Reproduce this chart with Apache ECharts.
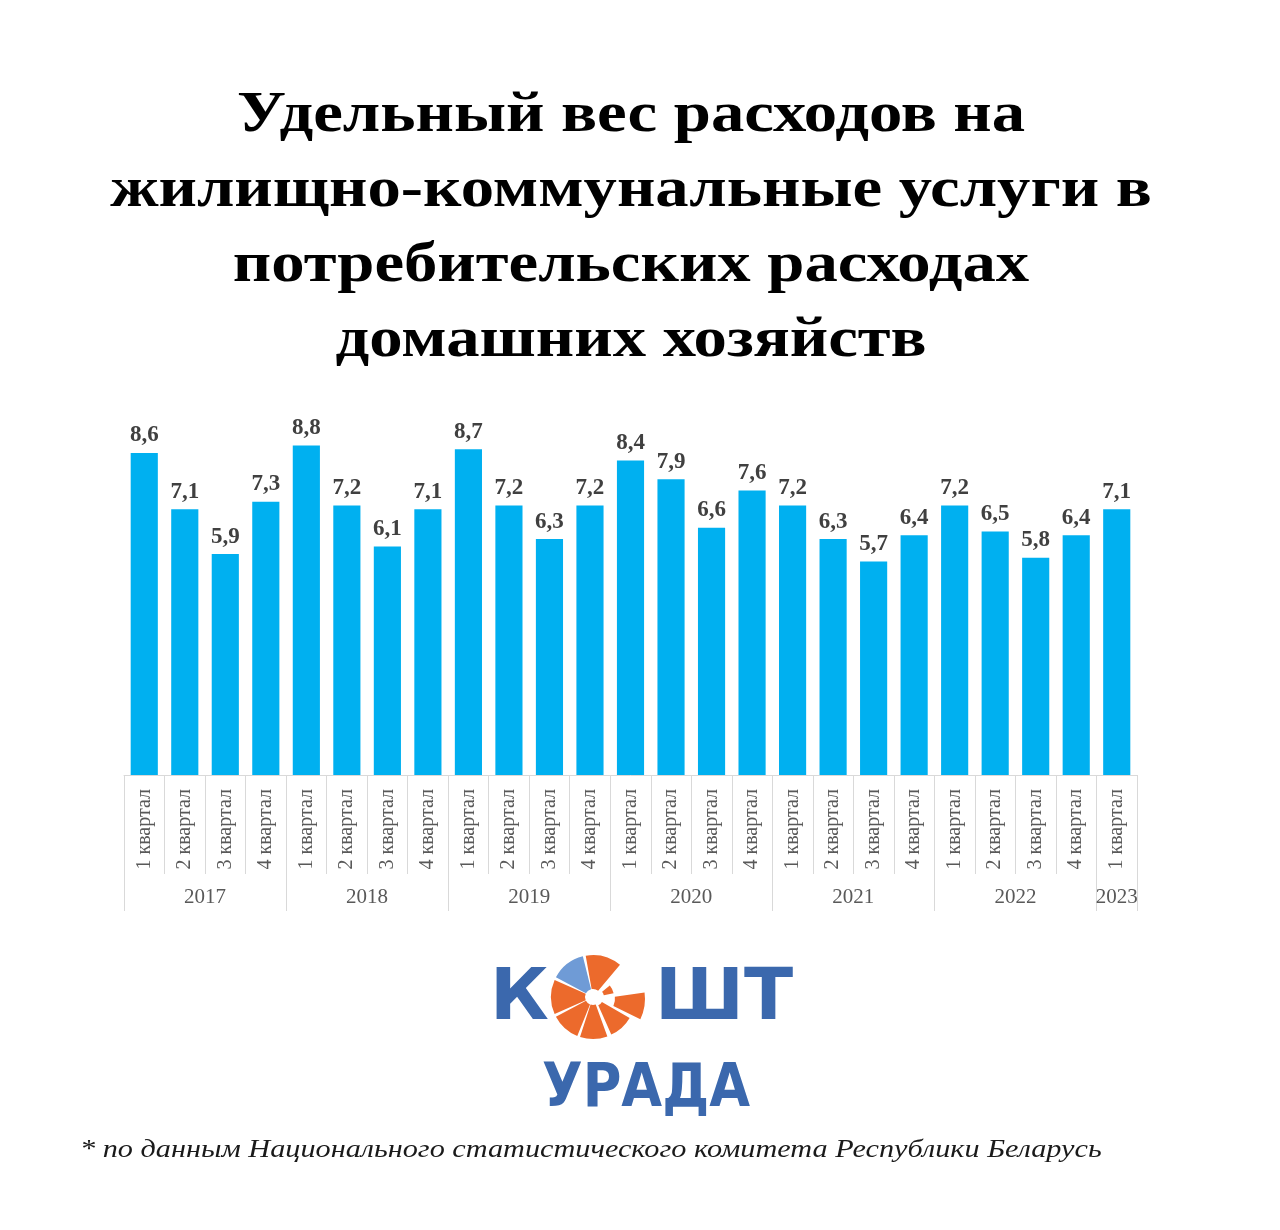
<!DOCTYPE html>
<html>
<head>
<meta charset="utf-8">
<title>Удельный вес расходов на ЖКУ</title>
<script src="https://cdn.jsdelivr.net/npm/echarts@6/dist/echarts.min.js"></script>
<style>
    html, body { margin: 0; padding: 0; background: #ffffff; }
    #main { width: 1280px; height: 1230px; }
</style>
</head>
<body>
<div id="main"></div>
<script>
// quarter labels (bottom level of the axis)
const quarters = [
    '1 квартал', '2 квартал', '3 квартал', '4 квартал',
    '1 квартал', '2 квартал', '3 квартал', '4 квартал',
    '1 квартал', '2 квартал', '3 квартал', '4 квартал',
    '1 квартал', '2 квартал', '3 квартал', '4 квартал',
    '1 квартал', '2 квартал', '3 квартал', '4 квартал',
    '1 квартал', '2 квартал', '3 квартал', '4 квартал',
    '1 квартал'
];

// share of housing & utilities in consumer spending, %
const shares = [
    8.6, 7.1, 5.9, 7.3,
    8.8, 7.2, 6.1, 7.1,
    8.7, 7.2, 6.3, 7.2,
    8.4, 7.9, 6.6, 7.6,
    7.2, 6.3, 5.7, 6.4,
    7.2, 6.5, 5.8, 6.4,
    7.1
];

// year groups and how many quarters each covers
const years = ['2017', '2018', '2019', '2020', '2021', '2022', '2023'];
const yearQuarters = [4, 4, 4, 4, 4, 4, 1];

const titleLines = [
    'Удельный вес расходов на',
    'жилищно-коммунальные услуги в',
    'потребительских расходах',
    'домашних хозяйств'
];
const sourceNote = '* по данным Национального статистического комитета Республики Беларусь';

// boundaries and centres of the year groups, in category units
const yearEdges = [0];
const yearCenters = [];
yearQuarters.forEach((n, i) => {
    yearCenters.push(yearEdges[i] + n / 2);
    yearEdges.push(yearEdges[i] + n);
});

const SERIF = '"Liberation Serif", "Times New Roman", serif';
const AXIS_GRAY = '#d9d9d9';
const LABEL_GRAY = '#595959';
const LOGO_BLUE = '#3b68ad';
const LOGO_ORANGE = '#ec6a2c';

// logo ring pieces (decoration only)
const cx = 593, cy = 997;
const ring = [
    { a0: -100, a1: -50, fill: LOGO_ORANGE, r0: 8, r: 42, dx: 0, dy: 0 },
    { a0: -152, a1: -104, fill: '#6f9bd6', r0: 8, r: 42, dx: 0, dy: 0 },
    { a0: 156, a1: 204, fill: LOGO_ORANGE, r0: 8, r: 42, dx: 0, dy: 0 },
    { a0: 112, a1: 152, fill: LOGO_ORANGE, r0: 8, r: 42, dx: 0, dy: 0 },
    { a0: 70, a1: 108, fill: LOGO_ORANGE, r0: 8, r: 42, dx: 0, dy: 0 },
    { a0: 30, a1: 66, fill: LOGO_ORANGE, r0: 8, r: 40, dx: 2, dy: 1 },
    { a0: -8, a1: 26, fill: LOGO_ORANGE, r0: 16, r: 46, dx: 6, dy: 2 },
    { a0: -40, a1: -12, fill: LOGO_ORANGE, r0: 8, r: 18, dx: 3, dy: 0 }
];

const graphics = [
    {
        type: 'text',
        x: 631,
        y: 79,
        scaleX: 1.15,
        style: {
            text: titleLines.join('\n'),
            font: 'bold 58px ' + SERIF,
            lineHeight: 75,
            fill: '#000000',
            align: 'center',
            verticalAlign: 'top'
        }
    },
    {
        type: 'text',
        x: 490,
        y: 1000,
        style: {
            text: 'К',
            font: 'bold 72px "DejaVu Sans", sans-serif',
            fill: LOGO_BLUE,
            align: 'left',
            verticalAlign: 'middle'
        }
    },
    {
        type: 'text',
        x: 793,
        y: 1000,
        style: {
            text: 'ШТ',
            font: 'bold 72px "DejaVu Sans", sans-serif',
            fill: LOGO_BLUE,
            align: 'right',
            verticalAlign: 'middle'
        }
    },
    {
        type: 'text',
        x: 646,
        y: 1090,
        scaleX: 0.88,
        style: {
            text: 'УРАДА',
            font: 'bold 60px "DejaVu Sans", sans-serif',
            fill: LOGO_BLUE,
            align: 'center',
            verticalAlign: 'middle'
        }
    },
    {
        type: 'text',
        x: 80,
        y: 1150,
        scaleX: 1.21,
        style: {
            text: sourceNote,
            font: 'italic 25px ' + SERIF,
            fill: '#1a1a1a',
            align: 'left',
            verticalAlign: 'middle'
        }
    }
];

ring.forEach(p => {
    graphics.push({
        type: 'sector',
        shape: {
            cx: cx + p.dx,
            cy: cy + p.dy,
            r0: p.r0,
            r: p.r,
            startAngle: p.a0 * Math.PI / 180,
            endAngle: p.a1 * Math.PI / 180
        },
        style: { fill: p.fill }
    });
});

const option = {
    backgroundColor: '#ffffff',
    animation: false,
    grid: {
        left: 124,
        right: 143,
        top: 438,
        bottom: 455
    },
    xAxis: [
        {
            type: 'category',
            data: quarters,
            position: 'bottom',
            axisLine: { lineStyle: { color: AXIS_GRAY, width: 1 } },
            axisTick: {
                show: true,
                length: 99,
                lineStyle: { color: AXIS_GRAY, width: 1 }
            },
            axisLabel: {
                rotate: 90,
                margin: 14,
                fontFamily: SERIF,
                fontSize: 20,
                color: LABEL_GRAY
            }
        },
        {
            type: 'value',
            position: 'bottom',
            min: 0,
            max: quarters.length,
            axisLine: { show: false },
            splitLine: { show: false },
            axisTick: {
                show: true,
                length: 136,
                customValues: yearEdges,
                lineStyle: { color: AXIS_GRAY, width: 1 }
            },
            axisLabel: {
                margin: 112,
                customValues: yearCenters,
                formatter: v => years[yearCenters.indexOf(v)] || '',
                fontFamily: SERIF,
                fontSize: 21,
                color: LABEL_GRAY
            }
        }
    ],
    yAxis: {
        type: 'value',
        min: 0,
        max: 9,
        show: false
    },
    series: [
        {
            type: 'bar',
            xAxisIndex: 0,
            data: shares,
            barCategoryGap: '33%',
            itemStyle: { color: '#00b0f0' },
            label: {
                show: true,
                position: 'top',
                distance: 6,
                formatter: p => String(p.value).replace('.', ','),
                fontFamily: SERIF,
                fontWeight: 'bold',
                fontSize: 23,
                color: '#404040'
            }
        }
    ],
    graphic: graphics
};

const myChart = echarts.init(document.getElementById('main'));
myChart.setOption(option);
</script>
</body>
</html>
